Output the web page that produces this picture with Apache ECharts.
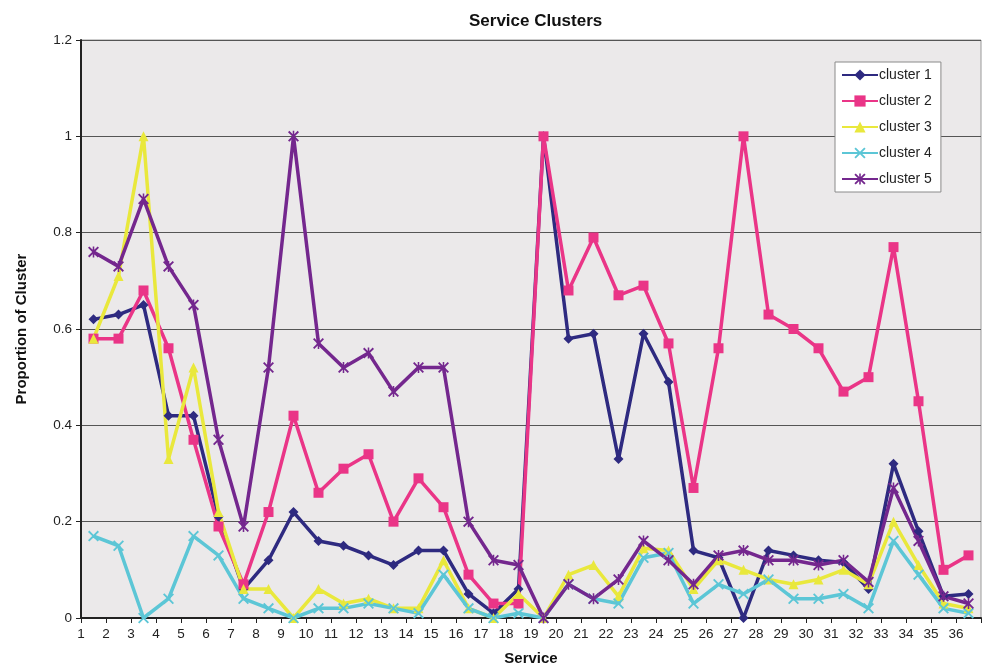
<!DOCTYPE html>
<html>
<head>
<meta charset="utf-8">
<title>Service Clusters</title>
<script src="https://cdn.jsdelivr.net/npm/echarts@6/dist/echarts.min.js"></script>
<style>
  html, body { margin: 0; padding: 0; background: #ffffff; }
  #chart { width: 982px; height: 671px; }
</style>
</head>
<body>
<div id="chart"></div>
<script>
// Services 1..36 (one category per service)
const services = ['1','2','3','4','5','6','7','8','9','10','11','12','13','14','15','16','17','18',
  '19','20','21','22','23','24','25','26','27','28','29','30','31','32','33','34','35','36'];
const tickLabels = services;

const seriesNames = ['cluster 1', 'cluster 2', 'cluster 3', 'cluster 4', 'cluster 5'];

const cluster1 = [0.62, 0.63, 0.65, 0.42, 0.42, 0.21, 0.06, 0.12, 0.22, 0.16, 0.15, 0.13, 0.11, 0.14, 0.14, 0.05, 0.01, 0.06,
  1.00, 0.58, 0.59, 0.33, 0.59, 0.49, 0.14, 0.125, 0.00, 0.14, 0.13, 0.12, 0.115, 0.06, 0.32, 0.18, 0.045, 0.05];
const cluster2 = [0.58, 0.58, 0.68, 0.56, 0.37, 0.19, 0.07, 0.22, 0.42, 0.26, 0.31, 0.34, 0.20, 0.29, 0.23, 0.09, 0.03, 0.03,
  1.00, 0.68, 0.79, 0.67, 0.69, 0.57, 0.27, 0.56, 1.00, 0.63, 0.60, 0.56, 0.47, 0.50, 0.77, 0.45, 0.10, 0.13];
const cluster3 = [0.58, 0.71, 1.00, 0.33, 0.52, 0.22, 0.06, 0.06, 0.00, 0.06, 0.03, 0.04, 0.02, 0.02, 0.12, 0.02, 0.00, 0.05,
  0.00, 0.09, 0.11, 0.045, 0.145, 0.14, 0.06, 0.12, 0.10, 0.08, 0.07, 0.08, 0.10, 0.07, 0.20, 0.11, 0.03, 0.02];
const cluster4 = [0.17, 0.15, 0.00, 0.04, 0.17, 0.13, 0.04, 0.02, 0.00, 0.02, 0.02, 0.03, 0.02, 0.01, 0.09, 0.02, 0.00, 0.01,
  0.00, 0.07, 0.04, 0.03, 0.125, 0.135, 0.03, 0.07, 0.05, 0.08, 0.04, 0.04, 0.05, 0.02, 0.16, 0.09, 0.02, 0.01];
const cluster5 = [0.76, 0.73, 0.87, 0.73, 0.65, 0.37, 0.19, 0.52, 1.00, 0.57, 0.52, 0.55, 0.47, 0.52, 0.52, 0.20, 0.12, 0.11,
  0.00, 0.07, 0.04, 0.08, 0.16, 0.12, 0.07, 0.13, 0.14, 0.12, 0.12, 0.11, 0.12, 0.075, 0.27, 0.16, 0.045, 0.03];

const colors = ['#2e2a80', '#ea3587', '#e9e83c', '#5cc6d6', '#74278e'];

// Marker shapes: diamond, square, triangle, cross, asterisk
const crossPath = 'path://M0,1.2L1.2,0L5,3.8L8.8,0L10,1.2L6.2,5L10,8.8L8.8,10L5,6.2L1.2,10L0,8.8L3.8,5Z';
const starPath = 'path://M0,1.2L1.2,0L5,3.8L8.8,0L10,1.2L6.2,5L10,8.8L8.8,10L5,6.2L1.2,10L0,8.8L3.8,5Z' +
  'M4.3,0L5.7,0L5.7,10L4.3,10Z';
const symbols = ['diamond', 'rect', 'triangle', crossPath, starPath];
const symbolSizes = [10, 10, 10, 11, 11];
const values = [cluster1, cluster2, cluster3, cluster4, cluster5];

const font = '"Liberation Sans", Arial, sans-serif';

const chart = echarts.init(document.getElementById('chart'), null, { renderer: 'canvas' });

chart.setOption({
  animation: false,
  backgroundColor: '#ffffff',
  color: colors,
  title: {
    text: 'Service Clusters',
    left: 464,
    top: 8,
    textStyle: { fontFamily: font, fontSize: 17, fontWeight: 'bold', color: '#111' }
  },
  legend: {
    data: seriesNames,
    orient: 'vertical',
    left: 835,
    top: 62,
    itemWidth: 36,
    itemHeight: 14,
    itemGap: 12,
    padding: [6, 9, 6, 6],
    backgroundColor: '#ffffff',
    borderColor: '#8a8a8a',
    borderWidth: 1,
    textStyle: { fontFamily: font, fontSize: 14, color: '#222', padding: [0, 0, 0, -4] }
  },
  grid: {
    left: 81,
    right: 1,
    top: 40,
    bottom: 53,
    show: true,
    backgroundColor: '#ebe9ea',
    borderColor: '#9a9a9a',
    borderWidth: 1
  },
  xAxis: [
    {
      type: 'category',
      data: services,
      boundaryGap: true,
      name: 'Service',
      nameLocation: 'middle',
      nameGap: 33,
      nameTextStyle: { fontFamily: font, fontSize: 15, fontWeight: 'bold', color: '#111' },
      axisLine: { lineStyle: { color: '#222', width: 2 } },
      axisTick: { show: true, interval: 0, length: 5, lineStyle: { color: '#222', width: 1 } },
      axisLabel: { show: false },
      splitLine: { show: false }
    },
    {
      // label-only axis: service numbers sit on the category boundaries
      type: 'value',
      position: 'bottom',
      min: 1,
      max: 37,
      interval: 1,
      axisLine: { show: false },
      axisTick: { show: false },
      splitLine: { show: false },
      axisLabel: {
        margin: 9,
        fontFamily: font,
        fontSize: 13.5,
        color: '#222',
        showMaxLabel: false,
        formatter: function (v) { return tickLabels[v - 1] || ''; }
      }
    }
  ],
  yAxis: {
    type: 'value',
    min: 0,
    max: 1.2,
    interval: 0.2,
    name: 'Proportion of Cluster',
    nameLocation: 'middle',
    nameRotate: 90,
    nameGap: 52,
    nameTextStyle: { fontFamily: font, fontSize: 15, fontWeight: 'bold', color: '#111' },
    axisLine: { show: true, lineStyle: { color: '#222', width: 2 } },
    axisTick: { show: true, length: 5, lineStyle: { color: '#222' } },
    axisLabel: {
      margin: 9,
      fontFamily: font,
      fontSize: 13.5,
      color: '#222',
      formatter: function (v) { return String(+v.toFixed(1)); }
    },
    splitLine: { show: true, lineStyle: { color: '#555', width: 1 } }
  },
  series: seriesNames.map(function (name, i) {
    return {
      name: name,
      type: 'line',
      xAxisIndex: 0,
      data: values[i],
      symbol: symbols[i],
      symbolSize: symbolSizes[i],
      showAllSymbol: true,
      lineStyle: { width: 3.5, color: colors[i] },
      itemStyle: { color: colors[i], borderWidth: 0 },
      emphasis: { disabled: true }
    };
  })
});
</script>
</body>
</html>
